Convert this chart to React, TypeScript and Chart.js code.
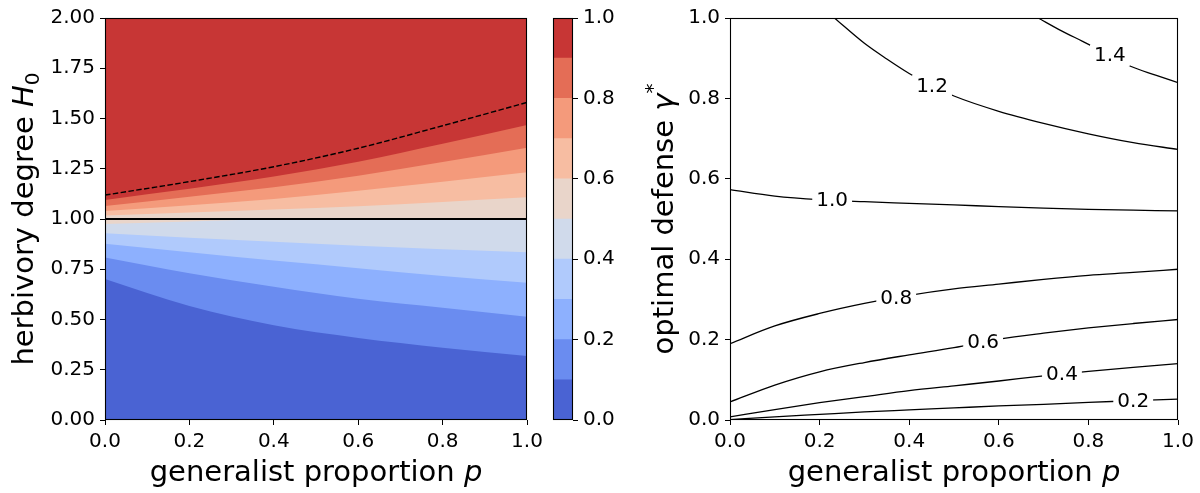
import React, { useEffect, useRef } from 'react';
import { Chart, registerables } from 'chart.js';

Chart.register(...registerables);

// ---------- Left panel: filled contours of H0 vs p ----------
const P_LEFT = [0, 0.2, 0.4, 0.6, 0.8, 1.0];
const H_01 = [0.701, 0.567, 0.471, 0.408, 0.36, 0.318];
const H_02 = [0.808, 0.73, 0.663, 0.603, 0.558, 0.514];
const H_03 = [0.877, 0.834, 0.793, 0.755, 0.716, 0.683];
const H_04 = [0.929, 0.907, 0.887, 0.867, 0.849, 0.834];
const H_05 = [0.975, 0.988, 0.999, 1.0, 1.0, 1.0];
const H_06 = [1.018, 1.032, 1.047, 1.064, 1.085, 1.108];
const H_07 = [1.04, 1.069, 1.1, 1.14, 1.185, 1.232];
const H_08 = [1.065, 1.111, 1.158, 1.215, 1.283, 1.355];
const H_09 = [1.095, 1.15, 1.211, 1.285, 1.374, 1.468];
const H_TOP = [2, 2, 2, 2, 2, 2];
const H_THRESHOLD = [1, 1, 1, 1, 1, 1];
const H_DASHED = [1.119, 1.186, 1.26, 1.352, 1.464, 1.58];

const LEVEL_CURVES = [H_01, H_02, H_03, H_04, H_05, H_06, H_07, H_08, H_09, H_TOP];
const LEVELS = [0, 0.1, 0.2, 0.3, 0.4, 0.5, 0.6, 0.7, 0.8, 0.9, 1.0];
const BAND_COLORS = [
  '#4a63d3', '#6a8cf0', '#8db0fe', '#b0cafc', '#d0daeb',
  '#e9d5ca', '#f7bda2', '#f49a7b', '#e46d56', '#c73635',
];

// ---------- Right panel: contour lines of gamma* vs p ----------
const P_RIGHT = [0, 0.1, 0.2, 0.3, 0.4, 0.5, 0.6, 0.7, 0.8, 0.9, 1.0];
const G_02 = [0.001, 0.008, 0.014, 0.02, 0.025, 0.03, 0.035, 0.039, 0.044, 0.048, 0.052];
const G_04 = [0.008, 0.026, 0.043, 0.058, 0.073, 0.085, 0.097, 0.11, 0.121, 0.131, 0.14];
const G_06 = [0.045, 0.087, 0.12, 0.143, 0.162, 0.18, 0.201, 0.216, 0.229, 0.24, 0.25];
const G_08 = [0.19, 0.234, 0.265, 0.29, 0.31, 0.326, 0.338, 0.35, 0.36, 0.367, 0.375];
const G_10 = [0.573, 0.557, 0.548, 0.543, 0.539, 0.535, 0.531, 0.527, 0.524, 0.522, 0.52];
const P_12 = [0.233, 0.3, 0.35, 0.4, 0.45, 0.5, 0.6, 0.7, 0.8, 0.9, 1.0];
const G_12 = [1.0, 0.937, 0.898, 0.862, 0.832, 0.806, 0.768, 0.738, 0.712, 0.69, 0.673];
const P_14 = [0.688, 0.74, 0.787, 0.84, 0.894, 0.95, 1.0];
const G_14 = [1.0, 0.968, 0.942, 0.912, 0.88, 0.858, 0.839];

const CONTOUR_LABELS = ['0.2', '0.4', '0.6', '0.8', '1.0', '1.2', '1.4'];
const CONTOUR_XS = [P_RIGHT, P_RIGHT, P_RIGHT, P_RIGHT, P_RIGHT, P_12, P_14];
const CONTOUR_YS = [G_02, G_04, G_06, G_08, G_10, G_12, G_14];
const LABEL_P = [0.9, 0.741, 0.565, 0.371, 0.228, 0.451, 0.848];

// ---------- helpers ----------
const FAMILY = "'DejaVu Sans'";
const TICK_FONT = { family: "DejaVu Sans", size: 20 };
const TITLE_SIZE = 29;

const toXY = (xs: number[], ys: number[]) => xs.map((x, i) => ({ x, y: ys[i] }));

function linAxis(min: number, max: number, step: number, digits: number, fitSize: number, horizontal: boolean, extra: any = {}) {
  return {
    type: 'linear',
    min,
    max,
    ticks: {
      stepSize: step,
      color: '#000',
      font: TICK_FONT,
      padding: 5,
      maxRotation: 0,
      minRotation: 0,
      autoSkip: false,
      callback: (v: any) => Number(v).toFixed(digits),
    },
    grid: {
      display: true,
      drawOnChartArea: false,
      drawTicks: true,
      tickLength: 5,
      color: '#000',
      lineWidth: 1,
    },
    border: { display: false },
    afterFit: (s: any) => {
      if (horizontal) s.height = fitSize;
      else s.width = fitSize;
      s.paddingLeft = 0;
      s.paddingRight = 0;
      s.paddingTop = 0;
      s.paddingBottom = 0;
    },
    ...extra,
  };
}

type Seg = { text: string; font: string; dy?: number };

function drawRich(ctx: CanvasRenderingContext2D, segs: Seg[], x: number, y: number, rotate: boolean) {
  ctx.save();
  ctx.translate(x, y);
  if (rotate) ctx.rotate(-Math.PI / 2);
  ctx.textAlign = 'left';
  ctx.textBaseline = 'alphabetic';
  ctx.fillStyle = '#000';
  let total = 0;
  const widths = segs.map((s) => {
    ctx.font = s.font;
    const w = ctx.measureText(s.text).width;
    total += w;
    return w;
  });
  let cx = -total / 2;
  segs.forEach((s, i) => {
    ctx.font = s.font;
    ctx.fillText(s.text, cx, s.dy || 0);
    cx += widths[i];
  });
  ctx.restore();
}

const normalFont = (size: number) => `${size}px ${FAMILY}`;
const italicFont = (size: number) => `italic ${size}px ${FAMILY}`;

const X_TITLE: Seg[] = [
  { text: 'generalist proportion ', font: normalFont(TITLE_SIZE) },
  { text: 'p', font: italicFont(TITLE_SIZE) },
];
const Y_TITLE_LEFT: Seg[] = [
  { text: 'herbivory degree ', font: normalFont(TITLE_SIZE) },
  { text: 'H', font: italicFont(TITLE_SIZE) },
  { text: '0', font: normalFont(20), dy: 6 },
];
const Y_TITLE_RIGHT: Seg[] = [
  { text: 'optimal defense ', font: normalFont(TITLE_SIZE) },
  { text: 'γ', font: italicFont(TITLE_SIZE) },
  { text: '*', font: normalFont(20), dy: -14 },
];

const framePlugin = {
  id: 'frame',
  afterDatasetsDraw(chart: any) {
    const { ctx, chartArea } = chart;
    const { left, top, right, bottom } = chartArea;
    ctx.save();
    ctx.strokeStyle = '#000';
    ctx.lineWidth = 1.1;
    ctx.strokeRect(left + 0.5, top + 0.5, right - left - 1, bottom - top - 1);
    ctx.restore();
  },
};

function titlesPlugin(yTitle: Seg[], yOffset: number) {
  return {
    id: 'titles',
    afterDraw(chart: any) {
      const { ctx, chartArea } = chart;
      const cx = (chartArea.left + chartArea.right) / 2;
      const cy = (chartArea.top + chartArea.bottom) / 2;
      drawRich(ctx, X_TITLE, cx, chartArea.bottom + 61, false);
      drawRich(ctx, yTitle, chartArea.left - yOffset, cy, true);
    },
  };
}

const contourLabelPlugin = {
  id: 'contourLabels',
  afterDatasetsDraw(chart: any) {
    const { ctx } = chart;
    const xScale = chart.scales.x;
    ctx.save();
    ctx.font = `20px ${FAMILY}`;
    CONTOUR_LABELS.forEach((txt, i) => {
      const pts = chart.getDatasetMeta(i).data;
      const px = xScale.getPixelForValue(LABEL_P[i]);
      let py = pts[pts.length - 1].y;
      for (let k = 0; k < pts.length - 1; k++) {
        const a = pts[k];
        const b = pts[k + 1];
        if (px >= a.x && px <= b.x) {
          const t = (px - a.x) / (b.x - a.x || 1);
          py = a.y + t * (b.y - a.y);
          break;
        }
      }
      const w = ctx.measureText(txt).width;
      ctx.fillStyle = '#fff';
      ctx.fillRect(px - w / 2 - 4, py - 11, w + 8, 22);
      ctx.fillStyle = '#000';
      ctx.textAlign = 'center';
      ctx.textBaseline = 'middle';
      ctx.fillText(txt, px, py + 1);
    });
    ctx.restore();
  },
};

const baseOptions = {
  responsive: false,
  maintainAspectRatio: false,
  animation: false,
  events: [],
  plugins: { legend: { display: false }, tooltip: { enabled: false } },
  elements: { point: { radius: 0 } },
};

export default function App() {
  const leftRef = useRef<HTMLCanvasElement>(null);
  const barRef = useRef<HTMLCanvasElement>(null);
  const rightRef = useRef<HTMLCanvasElement>(null);

  useEffect(() => {
    const charts: Chart[] = [];

    // Left filled contour chart. Lower dataset index is drawn later (on top).
    const bandSets = LEVEL_CURVES.map((curve, i) => ({
      data: toXY(P_LEFT, curve),
      fill: 'start',
      backgroundColor: BAND_COLORS[i],
      borderColor: 'rgba(0,0,0,0)',
      borderWidth: 0,
      pointRadius: 0,
      cubicInterpolationMode: 'monotone',
    }));
    const left = new Chart(leftRef.current!, {
      type: 'line',
      data: {
        datasets: [
          {
            data: toXY(P_LEFT, H_DASHED),
            fill: false,
            borderColor: '#000',
            borderWidth: 1.4,
            borderDash: [5.5, 2.4],
            pointRadius: 0,
            cubicInterpolationMode: 'monotone',
          },
          {
            data: toXY(P_LEFT, H_THRESHOLD),
            fill: false,
            borderColor: '#000',
            borderWidth: 2.2,
            pointRadius: 0,
          },
          ...bandSets,
        ] as any,
      },
      options: {
        ...baseOptions,
        layout: { padding: { top: 18, right: 21, left: 0, bottom: 0 } },
        scales: {
          x: linAxis(0, 1, 0.2, 1, 73, true),
          y: linAxis(0, 2, 0.25, 2, 105, false),
        },
      } as any,
      plugins: [framePlugin, titlesPlugin(Y_TITLE_LEFT, 72)],
    });
    charts.push(left);

    // Colorbar
    const bar = new Chart(barRef.current!, {
      type: 'bar',
      data: {
        labels: [''],
        datasets: BAND_COLORS.map((c, i) => ({
          data: [LEVELS[i + 1]],
          backgroundColor: c,
          borderWidth: 0,
          grouped: false,
          barPercentage: 1,
          categoryPercentage: 1,
        })) as any,
      },
      options: {
        ...baseOptions,
        layout: { padding: { top: 18, right: 0, left: 13, bottom: 73 } },
        scales: {
          x: { display: false },
          y: linAxis(0, 1, 0.2, 1, 57, false, { position: 'right' }),
        },
      } as any,
      plugins: [framePlugin],
    });
    charts.push(bar);

    // Right contour line chart
    const right = new Chart(rightRef.current!, {
      type: 'line',
      data: {
        datasets: CONTOUR_YS.map((ys, i) => ({
          data: toXY(CONTOUR_XS[i], ys),
          fill: false,
          borderColor: '#000',
          borderWidth: 1.3,
          pointRadius: 0,
          cubicInterpolationMode: 'monotone',
        })) as any,
      },
      options: {
        ...baseOptions,
        layout: { padding: { top: 18, right: 22, left: 0, bottom: 0 } },
        scales: {
          x: linAxis(0, 1, 0.2, 1, 73, true),
          y: linAxis(0, 1, 0.2, 1, 130, false),
        },
      } as any,
      plugins: [contourLabelPlugin, framePlugin, titlesPlugin(Y_TITLE_RIGHT, 57)],
    });
    charts.push(right);

    return () => charts.forEach((c) => c.destroy());
  }, []);

  return (
    <div style={{ position: 'absolute', left: 0, top: 0, width: 1200, height: 493, background: '#fff' }}>
      <canvas ref={leftRef} width={548} height={493} style={{ position: 'absolute', left: 0, top: 0 }} />
      <canvas ref={barRef} width={90} height={493} style={{ position: 'absolute', left: 540, top: 0 }} />
      <canvas ref={rightRef} width={600} height={493} style={{ position: 'absolute', left: 600, top: 0 }} />
    </div>
  );
}
